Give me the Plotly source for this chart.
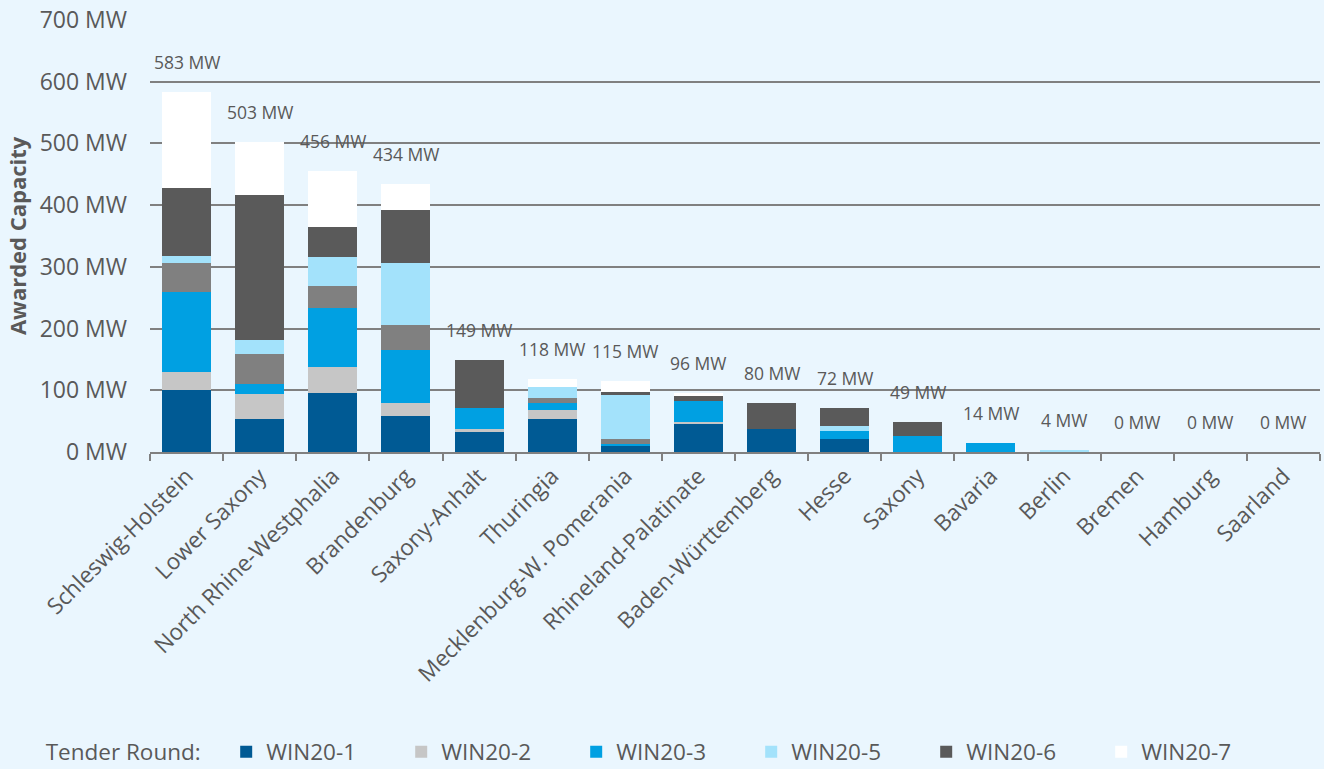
import plotly.graph_objects as go

states = ["Schleswig-Holstein", "Lower Saxony", "North Rhine-Westphalia", "Brandenburg",
          "Saxony-Anhalt", "Thuringia", "Mecklenburg-W. Pomerania", "Rhineland-Palatinate",
          "Baden-Württemberg", "Hesse", "Saxony", "Bavaria", "Berlin", "Bremen", "Hamburg", "Saarland"]

win20_1 = [101, 54, 96, 58, 32, 54, 9, 45, 38, 21, 0, 0, 0, 0, 0, 0]
win20_2 = [28, 40, 41, 21, 6, 14, 0, 4, 0, 0, 0, 0, 0, 0, 0, 0]
win20_3 = [130, 16, 97, 86, 34, 12, 4, 33, 0, 13, 26, 14, 0, 0, 0, 0]
win20_4 = [47, 48, 35, 40, 0, 8, 8, 0, 0, 0, 0, 0, 0, 0, 0, 0]
win20_5 = [12, 24, 47, 101, 0, 17, 71, 0, 0, 8, 0, 0, 4, 0, 0, 0]
win20_6 = [109, 235, 49, 86, 77, 0, 5, 8, 42, 30, 23, 0, 0, 0, 0, 0]
win20_7 = [156, 86, 91, 42, 0, 13, 18, 6, 0, 0, 0, 0, 0, 0, 0, 0]
totals = [583, 503, 456, 434, 149, 118, 115, 96, 80, 72, 49, 14, 4, 0, 0, 0]

series = [
    ("WIN20-1", win20_1, "#005A94", True),
    ("WIN20-2", win20_2, "#C6C6C6", True),
    ("WIN20-3", win20_3, "#00A0E2", True),
    ("WIN20-4", win20_4, "#808080", False),
    ("WIN20-5", win20_5, "#A3E2FB", True),
    ("WIN20-6", win20_6, "#5A5A5A", True),
    ("WIN20-7", win20_7, "#FFFFFF", True),
]

BG = "#EAF6FE"
TXT = "#595959"
FONT = "Open Sans"

fig = go.Figure()
for name, vals, col, show in series:
    fig.add_trace(go.Bar(
        x=states, y=vals, name=name, marker=dict(color=col, line=dict(width=0)),
        showlegend=show,
    ))

for s, t in zip(states, totals):
    fig.add_annotation(x=s, y=t, text=f"{t} MW", showarrow=False, yshift=30,
                       font=dict(size=17.5, color=TXT, family=FONT))

fig.add_annotation(xref="paper", yref="paper", x=-0.1136, y=0.5, xanchor="center", yanchor="middle",
                   text="<b>Awarded Capacity</b>", textangle=-90, showarrow=False,
                   font=dict(size=22, color=TXT, family=FONT))

fig.update_layout(
    barmode="stack",
    bargap=0.33,
    width=1324, height=769,
    paper_bgcolor=BG, plot_bgcolor=BG,
    margin=dict(l=150, r=4, t=20, b=317),
    font=dict(family=FONT, color=TXT),
    xaxis=dict(
        tickangle=-45, tickfont=dict(size=22.5, color=TXT, family=FONT),
        showline=True, linecolor="#808080", linewidth=2,
        tickson="boundaries", ticks="outside", ticklen=7, tickcolor="#808080", tickwidth=2,
        showgrid=False,
    ),
    yaxis=dict(
        range=[0, 700], dtick=100, ticksuffix=" MW",
        tickfont=dict(size=23, color=TXT, family=FONT),
        gridcolor="#808080", gridwidth=2, zeroline=False,
        ticklabelstandoff=22,
    ),
    legend=dict(
        orientation="h", xref="container", yref="container",
        x=0.033, xanchor="left", y=0.022, yanchor="middle",
        title=dict(text="Tender Round:\u00a0\u00a0\u00a0", font=dict(size=22.5, color=TXT, family=FONT)),
        font=dict(size=22.5, color=TXT, family=FONT),
        entrywidth=130, entrywidthmode="pixels",
        traceorder="normal", bgcolor="rgba(0,0,0,0)",
    ),
)

fig.write_html("out.html")
